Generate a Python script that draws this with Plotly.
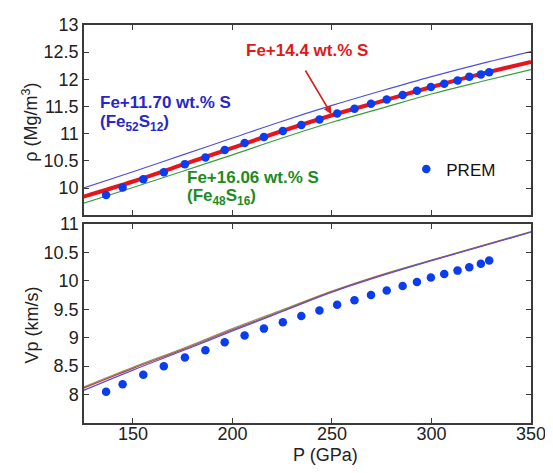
import plotly.graph_objects as go

# ---------------- data ----------------
prem_p = [136.5, 144.8, 155.2, 165.5, 176.1, 186.4, 196.1, 206.1, 215.8, 225.3, 234.6, 243.7,
          252.6, 261.3, 269.6, 277.5, 285.5, 292.7, 299.7, 306.4, 313.1, 319.0, 324.8, 329.0]
prem_rho = [9.87, 10.01, 10.16, 10.29, 10.44, 10.56, 10.70, 10.83, 10.94, 11.05, 11.16, 11.26,
            11.37, 11.46, 11.55, 11.63, 11.71, 11.79, 11.86, 11.92, 11.98, 12.05, 12.09, 12.13]
prem_vp = [8.05, 8.18, 8.35, 8.50, 8.65, 8.78, 8.92, 9.04, 9.16, 9.27, 9.38, 9.48,
           9.58, 9.66, 9.75, 9.83, 9.91, 9.98, 10.06, 10.12, 10.18, 10.24, 10.30, 10.36]

p_grid = [125, 150, 175, 200, 225, 250, 275, 300, 325, 350]
rho_s117 = [10.00, 10.30, 10.61, 10.92, 11.23, 11.52, 11.79, 12.05, 12.29, 12.51]
rho_s144 = [9.84, 10.12, 10.43, 10.74, 11.05, 11.34, 11.60, 11.86, 12.10, 12.32]
rho_s161 = [9.72, 10.01, 10.31, 10.61, 10.92, 11.21, 11.47, 11.73, 11.96, 12.18]

vp_s117 = [8.07, 8.43, 8.77, 9.12, 9.46, 9.80, 10.09, 10.355, 10.605, 10.855]
vp_s144 = [8.11, 8.46, 8.79, 9.14, 9.47, 9.81, 10.10, 10.36, 10.61, 10.86]
vp_s161 = [8.13, 8.48, 8.81, 9.16, 9.49, 9.82, 10.11, 10.365, 10.615, 10.865]

x_ticks = [150, 200, 250, 300, 350]
rho_ticks = [10, 10.5, 11, 11.5, 12, 12.5, 13]
vp_ticks = [8, 8.5, 9, 9.5, 10, 10.5, 11]

# ---------------- styles ----------------
FONT = "Liberation Sans, Arial, sans-serif"
BLUE_L = "#5050dc"
RED_L = "#e8141c"
GREEN_L = "#3c9c3c"
PREM_C = "#0a3cf0"
AX_C = "#3a3a3a"

# page offset of the plot div (browser body margin)
OFF = 8
W, H = 553 - OFF, 473 - OFF
L, R, T, B = 84 - OFF, 21, 15 - OFF, 58 - OFF
PW = W - L - R          # plot width in px (448)
PH = H - T - B          # plot height in px (400)


def px_x(px):
    """page pixel x -> paper x"""
    return (px - OFF - L) / PW


def px_y(py):
    """page pixel y -> paper y"""
    return (H - B - (py - OFF)) / PH


fig = go.Figure()

# top panel
fig.add_trace(go.Scatter(x=p_grid, y=rho_s117, mode="lines", line=dict(color=BLUE_L, width=1.2, shape="spline"),
                         showlegend=False, xaxis="x", yaxis="y"))
fig.add_trace(go.Scatter(x=p_grid, y=rho_s161, mode="lines", line=dict(color=GREEN_L, width=1.2, shape="spline"),
                         showlegend=False, xaxis="x", yaxis="y"))
fig.add_trace(go.Scatter(x=p_grid, y=rho_s144, mode="lines", line=dict(color=RED_L, width=4, shape="spline"),
                         showlegend=False, xaxis="x", yaxis="y"))
fig.add_trace(go.Scatter(x=prem_p, y=prem_rho, mode="markers", name="PREM",
                         marker=dict(color=PREM_C, size=8.5), showlegend=True, xaxis="x", yaxis="y"))

# bottom panel
fig.add_trace(go.Scatter(x=p_grid, y=vp_s161, mode="lines", line=dict(color="#8a9a50", width=1.2, shape="spline"),
                         showlegend=False, xaxis="x2", yaxis="y2"))
fig.add_trace(go.Scatter(x=p_grid, y=vp_s144, mode="lines", line=dict(color="#c04050", width=1.2, shape="spline"),
                         showlegend=False, xaxis="x2", yaxis="y2"))
fig.add_trace(go.Scatter(x=p_grid, y=vp_s117, mode="lines", line=dict(color="#5555d8", width=1.2, shape="spline"),
                         showlegend=False, xaxis="x2", yaxis="y2"))
fig.add_trace(go.Scatter(x=prem_p, y=prem_vp, mode="markers", name="PREM",
                         marker=dict(color=PREM_C, size=8.5), showlegend=False, xaxis="x2", yaxis="y2"))

axis_common = dict(showline=True, linecolor=AX_C, linewidth=1.5, mirror="ticks", ticks="inside",
                   ticklen=5, tickcolor=AX_C, tickwidth=1.2, showgrid=False, zeroline=False,
                   tickfont=dict(family=FONT, size=18, color="#222222"))

fig.update_layout(
    width=W, height=H,
    margin=dict(l=L, r=R, t=T, b=B, pad=0),
    paper_bgcolor="white", plot_bgcolor="white",
    font=dict(family=FONT, color="#222222"),
    xaxis=dict(domain=[0, 1], range=[125.4, 350], tickvals=x_ticks, showticklabels=False,
               anchor="y", **axis_common),
    yaxis=dict(domain=[px_y(210), 1], range=[9.5, 13], tickvals=rho_ticks,
               ticktext=[f"{v:g}" for v in rho_ticks], anchor="x", **axis_common),
    xaxis2=dict(domain=[0, 1], range=[125.4, 350], tickvals=x_ticks,
                ticktext=[str(v) for v in x_ticks], anchor="y2", ticklabelstandoff=-6, **axis_common),
    yaxis2=dict(domain=[0, px_y(219)], range=[7.5, 11], tickvals=vp_ticks,
                ticktext=[f"{v:g}" for v in vp_ticks], anchor="x2", **axis_common),
    legend=dict(x=px_x(407), y=px_y(163), xanchor="left", yanchor="middle",
                bgcolor="rgba(0,0,0,0)", font=dict(family=FONT, size=17, color="#111111"),
                itemwidth=30),
)

annotations = [
    dict(x=237.5, y=12.54, xref="x", yref="y", text="<b>Fe+14.4 wt.% S</b>", showarrow=False,
         font=dict(family=FONT, size=17, color="#e0191b"), xanchor="center", yanchor="middle"),
    dict(x=249.7, y=11.36, ax=236.2, ay=12.19, xref="x", yref="y", axref="x", ayref="y", text="",
         showarrow=True, arrowhead=2, arrowsize=1, arrowwidth=1.6, arrowcolor="#e0191b"),
    dict(x=132.5, y=11.58, xref="x", yref="y", text="<b>Fe+11.70 wt.% S</b>", showarrow=False,
         font=dict(family=FONT, size=17, color="#2828c8"), xanchor="left", yanchor="middle"),
    dict(x=132.5, y=11.19, xref="x", yref="y", text="<b>(Fe<sub>52</sub>S<sub>12</sub>)</b>", showarrow=False,
         font=dict(family=FONT, size=17, color="#2828c8"), xanchor="left", yanchor="middle"),
    dict(x=176.1, y=10.20, xref="x", yref="y", text="<b>Fe+16.06 wt.% S</b>", showarrow=False,
         font=dict(family=FONT, size=17, color="#1e8b1e"), xanchor="left", yanchor="middle"),
    dict(x=176.1, y=9.83, xref="x", yref="y", text="<b>(Fe<sub>48</sub>S<sub>16</sub>)</b>", showarrow=False,
         font=dict(family=FONT, size=17, color="#1e8b1e"), xanchor="left", yanchor="middle"),
    dict(x=px_x(30), y=px_y(115), xref="paper", yref="paper", text="ρ (Mg/m<sup>3</sup>)",
         textangle=-90, showarrow=False, font=dict(family=FONT, size=18, color="#222222"),
         xanchor="center", yanchor="middle"),
    dict(x=px_x(32), y=px_y(323), xref="paper", yref="paper", text="Vp (km/s)",
         textangle=-90, showarrow=False, font=dict(family=FONT, size=18, color="#222222"),
         xanchor="center", yanchor="middle"),
    dict(x=px_x(326), y=px_y(456), xref="paper", yref="paper", text="P (GPa)",
         showarrow=False, font=dict(family=FONT, size=18, color="#222222"),
         xanchor="center", yanchor="middle"),
]
fig.update_layout(annotations=annotations)

fig.write_html("out.html")
